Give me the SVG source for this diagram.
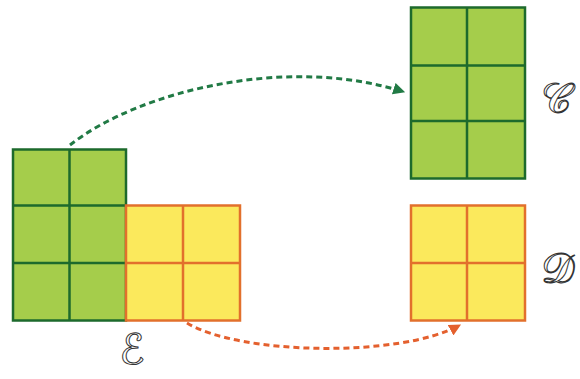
<svg xmlns="http://www.w3.org/2000/svg" width="580" height="379" viewBox="0 0 580 379">
<defs>
<style>
.g{fill:#a5cd4b;stroke:#1d6a2c;stroke-width:2.5}
.gl{stroke:#1d6a2c;stroke-width:2.5;fill:none}
.y{fill:#fbe95c;stroke:#e2702c;stroke-width:2.5}
.yl{stroke:#e2702c;stroke-width:2.5;fill:none}
.lbl{font-family:"DejaVu Serif","DejaVu Sans",serif;font-size:42px;fill:#fff;stroke:#333;stroke-width:1}
</style>
<marker id="ag" viewBox="0 0 10 10" refX="9" refY="5" markerWidth="4" markerHeight="4" orient="auto" markerUnits="strokeWidth"><path d="M0,0L10,5L0,10z" fill="#217a45"/></marker>
<marker id="ao" viewBox="0 0 10 10" refX="9" refY="5" markerWidth="4" markerHeight="4" orient="auto" markerUnits="strokeWidth"><path d="M0,0L10,5L0,10z" fill="#e4602e"/></marker>
</defs>
<rect width="580" height="379" fill="#fff"/>
<g id="E">
<rect class="g" x="13" y="149.5" width="113" height="171"/>
<path class="gl" d="M69.5,149.5V320.5M13,205.5H126M13,263H126"/>
<rect class="y" x="126" y="205.5" width="114" height="115"/>
<path class="yl" d="M183,205.5V320.5M126,263H240"/>
<text class="lbl" x="132" y="364" text-anchor="middle">ℰ</text>
</g>
<g id="C">
<rect class="g" x="411" y="7.5" width="114" height="171"/>
<path class="gl" d="M467,7.5V178.5M411,65.5H525M411,121H525"/>
<text class="lbl" x="556" y="113" text-anchor="middle">𝒞</text>
</g>
<g id="D">
<rect class="y" x="411" y="205.5" width="114" height="115"/>
<path class="yl" d="M467,205.5V320.5M411,263H525"/>
<text class="lbl" x="558" y="283" text-anchor="middle">𝒟</text>
</g>
<g id="connectors">
<path d="M70,145 C140,90 290,55 404,92" fill="none" stroke="#217a45" stroke-width="3" stroke-dasharray="6,4" marker-end="url(#ag)"/>
<path d="M187,323 C240,355 400,358 460,325" fill="none" stroke="#e4602e" stroke-width="3" stroke-dasharray="6,4" marker-end="url(#ao)"/>
</g>
</svg>
